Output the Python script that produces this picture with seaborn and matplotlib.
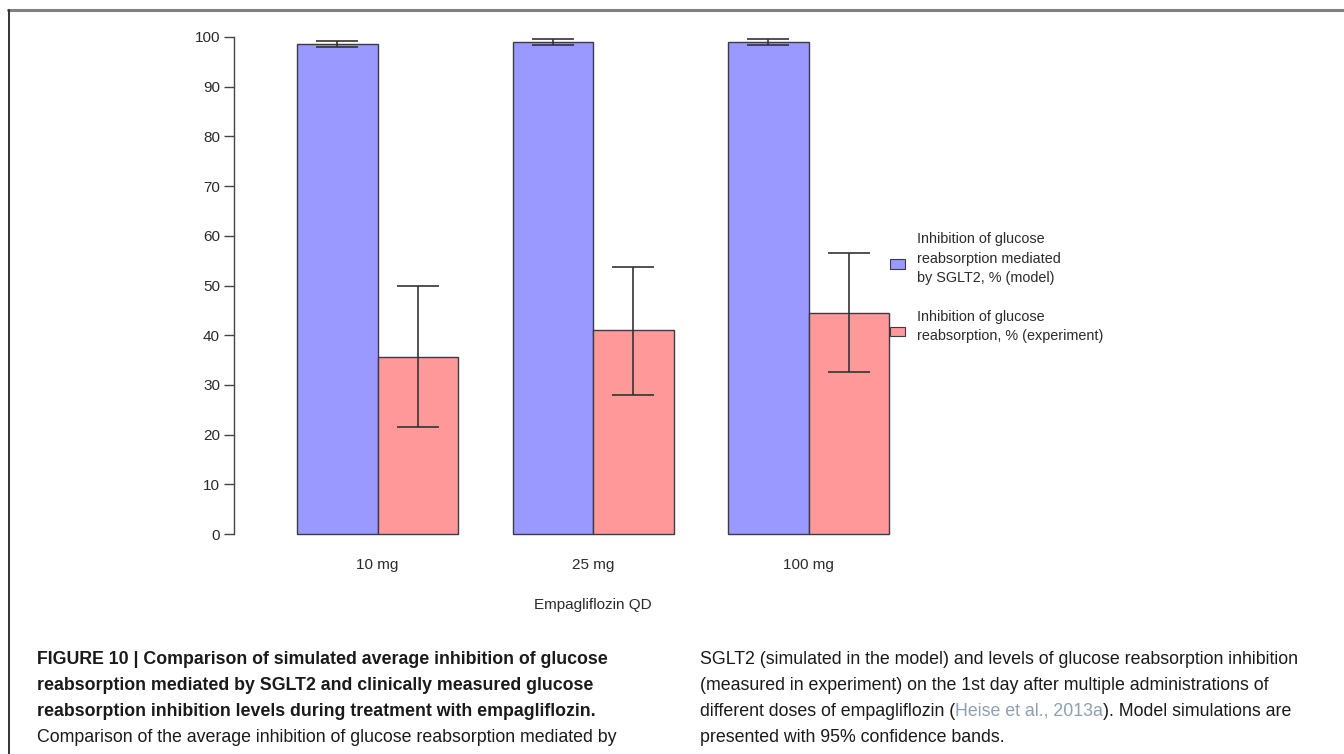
import matplotlib
matplotlib.use("Agg")
import matplotlib.pyplot as plt
from matplotlib.patches import Patch, Rectangle
from matplotlib.legend_handler import HandlerPatch
from matplotlib.lines import Line2D
import numpy as np
import pandas as pd
import seaborn as sns

# Empagliflozin once-daily doses
doses = ["10 mg", "25 mg", "100 mg"]
series = [
    "Inhibition of glucose\nreabsorption mediated\nby SGLT2, % (model)",
    "Inhibition of glucose\nreabsorption, % (experiment)",
]
# Simulated SGLT2-mediated inhibition (%) with 95% confidence band
model_mean = [98.6, 98.9, 99.0]
model_lower = [98.0, 98.3, 98.4]
model_upper = [99.2, 99.5, 99.6]
# Measured glucose reabsorption inhibition (%)
exp_mean = [35.7, 41.0, 44.5]
exp_lower = [21.6, 28.0, 32.5]
exp_upper = [49.8, 53.8, 56.5]
y_ticks = [0, 10, 20, 30, 40, 50, 60, 70, 80, 90, 100]
x_title = "Empagliflozin QD"

bar_colors = ["#9999ff", "#ff9999"]
ink = "#2b2b2b"

sns.set_theme(style="white")
plt.rcParams["font.family"] = ["Liberation Sans", "DejaVu Sans"]

df = pd.DataFrame({
    "dose": doses * 2,
    "series": [series[0]] * 3 + [series[1]] * 3,
    "value": model_mean + exp_mean,
})

W, H = 1344, 754
fig = plt.figure(figsize=(W / 100, H / 100), dpi=100)
fig.patch.set_facecolor("white")

x_lo, x_hi = -0.666, 2.45
px_per_unit = 215.5
ax = fig.add_axes([234 / W, (H - 553.9) / H,
                   (x_hi - x_lo) * px_per_unit / W, 536.8 / H])
ax.patch.set_alpha(0)
sns.barplot(data=df, x="dose", y="value", hue="series", order=doses,
            hue_order=series, palette=bar_colors, width=0.747, gap=0,
            errorbar=None, saturation=1, edgecolor="#3a3a4a", linewidth=1.0,
            legend=False, ax=ax)

# confidence bands drawn on the bar centres
means = np.array(model_mean + exp_mean)
lows = np.array(model_lower + exp_lower)
highs = np.array(model_upper + exp_upper)
xs = [p.get_x() + p.get_width() / 2 for p in ax.patches[:6]]
ax.errorbar(xs, means, yerr=[means - lows, highs - means], fmt="none",
            ecolor="#333333", elinewidth=1.2, capsize=15, capthick=1.2,
            zorder=5)

ax.set_xlim(x_lo, x_hi)
ax.set_ylim(-4, 104)
ax.set_yticks(y_ticks)
for s in ["top", "right", "bottom"]:
    ax.spines[s].set_visible(False)
ax.spines["left"].set_bounds(0, 100)
ax.spines["left"].set_color("#444444")
ax.spines["left"].set_linewidth(1.0)
ax.tick_params(axis="y", direction="out", length=7, width=1.0,
               color="#444444", labelsize=11, labelcolor=ink, pad=3,
               left=True)
ax.tick_params(axis="x", length=0, labelsize=11, labelcolor=ink, pad=3)
ax.set_xlabel(x_title, fontsize=11, color=ink)
# centre the axis title under the middle dose group
ax.xaxis.set_label_coords((1 - x_lo) / (x_hi - x_lo), -0.082)
ax.set_ylabel("")
ax.grid(False)


def lowered_box(legend, orig_handle, xdescent, ydescent, width, height, fontsize):
    # legend key sitting a little below the centre of its label block
    return Rectangle((-xdescent, -ydescent - 3.5), width, height)


handles = [Patch(facecolor=c, edgecolor="#3a3a4a", linewidth=0.8)
           for c in bar_colors]
leg = fig.legend(handles, series, loc="upper left",
                 bbox_to_anchor=(890 / W, 1 - 232 / H), frameon=False,
                 fontsize=10.4, handlelength=1.05, handleheight=0.65,
                 handletextpad=0.85, labelspacing=1.7, borderpad=0,
                 borderaxespad=0, labelcolor=ink,
                 handler_map={Patch: HandlerPatch(patch_func=lowered_box)})
for t in leg.get_texts():
    t.set_linespacing(1.5)

# panel frame
fig.add_artist(Line2D([8 / W, 1], [1 - 9.5 / H] * 2, transform=fig.transFigure,
                      color="#808080", lw=2.2))
fig.add_artist(Line2D([8.5 / W] * 2, [0, 1 - 9.5 / H], transform=fig.transFigure,
                      color="#333333", lw=1.4))

# caption
cap_size = 12.8
rows = [660, 686, 711, 737]
left_lines = [
    ("FIGURE 10 | Comparison of simulated average inhibition of glucose", "bold"),
    ("reabsorption mediated by SGLT2 and clinically measured glucose", "bold"),
    ("reabsorption inhibition levels during treatment with empagliflozin.", "bold"),
    ("Comparison of the average inhibition of glucose reabsorption mediated by", "normal"),
]
for (txt, wt), y in zip(left_lines, rows):
    fig.text(37 / W, 1 - y / H, txt, fontsize=cap_size, fontweight=wt,
             color="#1a1a1a", va="center", ha="left")

right_lines = [
    [("SGLT2 (simulated in the model) and levels of glucose reabsorption inhibition", "#1a1a1a")],
    [("(measured in experiment) on the 1st day after multiple administrations of", "#1a1a1a")],
    [("different doses of empagliflozin (", "#1a1a1a"), ("Heise et al., 2013a", "#8fa0b0"),
     ("). Model simulations are", "#1a1a1a")],
    [("presented with 95% confidence bands.", "#1a1a1a")],
]
fig.canvas.draw()
renderer = fig.canvas.get_renderer()
for parts, y in zip(right_lines, rows):
    x = 700 / W
    for txt, col in parts:
        t = fig.text(x, 1 - y / H, txt, fontsize=cap_size, color=col,
                     va="center", ha="left")
        bb = t.get_window_extent(renderer=renderer)
        x = bb.x1 / W

fig.savefig("out.png", dpi=100, facecolor="white")
